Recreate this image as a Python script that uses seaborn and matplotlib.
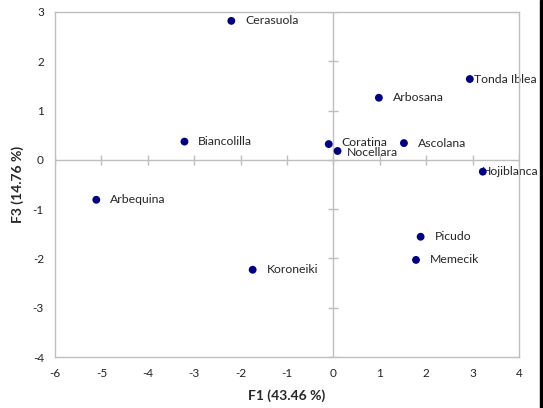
import matplotlib
matplotlib.use("Agg")
import matplotlib.pyplot as plt
import seaborn as sns
import pandas as pd
from matplotlib.patches import Rectangle

# PCA scores of olive cultivars on F1 and F3
cultivars = ["Cerasuola", "Biancolilla", "Arbequina", "Koroneiki", "Coratina",
             "Nocellara", "Ascolana", "Arbosana", "Tonda Iblea", "Hojiblanca",
             "Picudo", "Memecik"]
f1 = [-2.20, -3.21, -5.11, -1.74, -0.10, 0.09, 1.52, 0.98, 2.94, 3.22, 1.88, 1.78]
f3 = [2.82, 0.37, -0.81, -2.23, 0.32, 0.18, 0.34, 1.26, 1.64, -0.24, -1.56, -2.03]

x_ticks = [-6, -5, -4, -3, -2, -1, 0, 1, 2, 3, 4]
y_ticks = [-4, -3, -2, -1, 0, 1, 2, 3]

# label offsets in points (dx, dy)
label_offsets = {
    "Tonda Iblea": (3, 0),
    "Hojiblanca": (-1, 0),
    "Coratina": (9, 1),
    "Nocellara": (7, -1),
}

sns.set_theme(style="white")
plt.rcParams["font.family"] = ["Lato", "DejaVu Sans"]
plt.rcParams["axes.unicode_minus"] = False

df = pd.DataFrame({"cultivar": cultivars, "F1": f1, "F3": f3})

fig = plt.figure(figsize=(5.43, 4.08), dpi=100)
ax = fig.add_axes([0.1013, 0.125, 0.8545, 0.8456])

grey = "#bfbfbf"
ax.axhline(0, color=grey, lw=1, zorder=1)
ax.axvline(0, color=grey, lw=1, zorder=1)
# tick marks crossing the zero lines
ax.plot(x_ticks, [0] * len(x_ticks), ls="none", marker="|", ms=7,
        mew=1, color=grey, zorder=1)
ax.plot([0] * len(y_ticks), y_ticks, ls="none", marker="_", ms=7,
        mew=1, color=grey, zorder=1)

sns.scatterplot(data=df, x="F1", y="F3", ax=ax, color="#00007f",
                s=32, edgecolor="none", zorder=3, legend=False)

for name, x, y in zip(cultivars, f1, f3):
    dx, dy = label_offsets.get(name, (10, 0))
    ax.annotate(name, (x, y), xytext=(dx, dy), textcoords="offset points",
                ha="left", va="center", fontsize=8.8, color="#262626", zorder=2)

ax.set_xlim(-6, 4)
ax.set_ylim(-4, 3)
ax.set_xticks(x_ticks)
ax.set_yticks(y_ticks)
ax.tick_params(axis="both", length=0, labelsize=8.5, labelcolor="#222222", pad=8)
for sp in ax.spines.values():
    sp.set_color(grey)
    sp.set_linewidth(1)

ax.set_xlabel("F1 (43.46 %)", fontsize=10, fontweight="bold", labelpad=7)
ax.set_ylabel("F3 (14.76 %)", fontsize=10, fontweight="bold", labelpad=6)

# dark border strip on the right edge of the figure
fig.patches.append(Rectangle((540 / 543, 0), 3 / 543, 1, transform=fig.transFigure,
                             color="black", zorder=10))

fig.savefig("out.png", dpi=100)
